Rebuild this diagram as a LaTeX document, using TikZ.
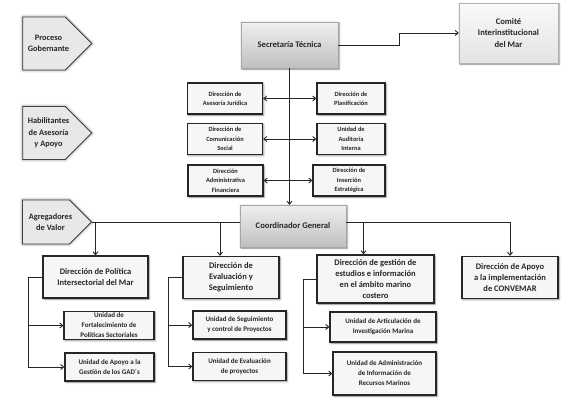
\documentclass[tikz,border=0pt]{standalone}
\usepackage{fontspec}
\setmainfont{Carlito}
\usetikzlibrary{shapes.symbols, arrows.meta, shadows.blur, calc}

\begin{document}
\begin{tikzpicture}[x=1pt, y=-1pt,
  every node/.style={font=\bfseries, text=black!85, align=center, inner sep=1pt},
  tier/.style={signal, signal to=east, signal pointer angle=90, draw=black!75,
               line width=0.8pt, fill=gray!18, minimum width=69pt, minimum height=53pt,
               blur shadow={shadow xshift=0pt, shadow yshift=0pt, shadow blur radius=3pt,
                            shadow opacity=50}},
  tiertext/.style={xshift=4.5pt, font=\fontsize{8.3}{11.5}\selectfont\bfseries},
  head/.style={rectangle, draw=gray!70, top color=gray!12, bottom color=gray!50,
               font=\fontsize{8.6}{11}\selectfont\bfseries,
               blur shadow={shadow xshift=1pt, shadow yshift=-1pt, shadow blur radius=2pt,
                            shadow opacity=50}},
  comite/.style={rectangle, draw=gray!60, top color=gray!4, bottom color=gray!22,
                 font=\fontsize{8.6}{11.5}\selectfont\bfseries,
                 blur shadow={shadow xshift=1pt, shadow yshift=-1pt, shadow blur radius=2pt,
                              shadow opacity=50}},
  staff/.style={rectangle, draw=black!85, line width=1.3pt, fill=gray!7,
                minimum width=75pt, minimum height=31pt,
                font=\fontsize{6.4}{9.3}\selectfont\bfseries,
                blur shadow={shadow xshift=1pt, shadow yshift=-1pt, shadow blur radius=2pt,
                             shadow opacity=50}},
  dept/.style={rectangle, draw=black!85, line width=1.3pt, fill=gray!7,
               minimum height=42pt,
               font=\fontsize{8.5}{11}\selectfont\bfseries,
               blur shadow={shadow xshift=1pt, shadow yshift=-1pt, shadow blur radius=2pt,
                            shadow opacity=50}},
  unit/.style={rectangle, draw=black!85, line width=1.3pt, fill=gray!7,
               minimum height=28pt,
               font=\fontsize{7}{10}\selectfont\bfseries,
               blur shadow={shadow xshift=1pt, shadow yshift=-1pt, shadow blur radius=2pt,
                            shadow opacity=50}},
  line/.style={black!85, line width=0.9pt},
  arr/.style={-{Straight Barb[length=3pt, width=5pt]}, line width=0.9pt, black!85},
  darr/.style={{Straight Barb[length=3pt, width=5pt]}-{Straight Barb[length=3pt, width=5pt]},
               line width=0.9pt, black!85}
]
  \useasboundingbox (0,0) rectangle (567,404);

  % Left column: process tiers
  \node[tier, label={[tiertext]center:Proceso\\Gobernante}] (gob) at (44, 43.5) {};
  \node[tier, label={[tiertext]center:Habilitantes\\de Asesoría\\y Apoyo}] (habil) at (44, 133) {};
  \node[tier, minimum height=44pt, label={[tiertext]center:Agregadores\\de Valor}] (agreg) at (46, 222) {};

  % Top: governing level
  \node[head, minimum width=97pt, minimum height=46pt] (sec) at (289.5, 45) {Secretaría Técnica};
  \node[comite, minimum width=99pt, minimum height=60pt] (comite) at (508.5, 33)
    {Comité\\Interinstitucional\\del Mar};

  % Middle: advisory and support units
  \node[staff] (asesoria)  at (225, 98.5) {Dirección de\\Asesoría Jurídica};
  \node[staff, minimum width=68pt] (planif) at (351, 98.5) {Dirección de\\Planificación};
  \node[staff] (comunic)   at (225, 139) {Dirección de\\Comunicación\\Social};
  \node[staff, minimum width=68pt] (auditoria) at (351, 139) {Unidad de\\Auditoría\\Interna};
  \node[staff] (admfin)    at (225.5, 180.5) {Dirección\\Administrativa\\Financiera};
  \node[staff, minimum width=72pt] (insercion) at (349, 180.5) {Dirección de\\Inserción\\Estratégica};

  % Coordination
  \node[head, minimum width=106pt, minimum height=42pt] (coord) at (293, 226) {Coordinador General};

  % Bottom: value-adding directions
  \node[dept, minimum width=105pt] (politica)   at (95.5, 277) {Dirección de Política\\Intersectorial del Mar};
  \node[dept, minimum width=96pt]  (evaluacion) at (231, 277.5) {Dirección de\\Evaluación y\\Seguimiento};
  \node[dept, minimum width=117pt, minimum height=48pt] (gestion) at (375.5, 279)
    {Dirección de gestión de\\estudios e información\\en el ámbito marino\\costero};
  \node[dept, minimum width=96pt]  (convemar)   at (510, 277.5) {Dirección de Apoyo\\a la implementación\\de CONVEMAR};

  % Units
  \node[unit, minimum width=90pt] (fortal)   at (109, 325.5) {Unidad de\\Fortalecimiento de\\Políticas Sectoriales};
  \node[unit, minimum width=89pt] (gad)      at (109.5, 367) {Unidad de Apoyo a la\\Gestión de los GAD´s};
  \node[unit, minimum width=93pt] (segctrl)  at (239.5, 325) {Unidad de Seguimiento\\y control de Proyectos};
  \node[unit, minimum width=93pt] (evalproy) at (239.5, 366.5) {Unidad de Evaluación\\de proyectos};
  \node[unit, minimum width=106pt, minimum height=30pt] (articul) at (383, 327) {Unidad de Articulación de\\Investigación Marina};
  \node[unit, minimum width=103pt, minimum height=43pt] (adminfo) at (384.5, 373.5)
    {Unidad de Administración\\de Información de\\Recursos Marinos};

  % Connectors
  \draw[arr] (sec.east) -- ++(61,0) |- (comite.west);
  \draw[arr] (sec.south) -- (sec.south |- coord.north);
  \draw[darr] (asesoria.east) -- (planif.west);
  \draw[darr] (comunic.east)  -- (auditoria.west);
  \draw[darr] (admfin.east)   -- (insercion.west);

  \draw[line] (agreg.east) -- (agreg.east -| coord.west);
  \draw[line] (coord.east |- agreg.east) -- (convemar.north |- agreg.east);
  \draw[arr] (politica.north |- agreg.east) -- (politica.north);
  \draw[arr] ([xshift=-11pt]evaluacion.north |- agreg.east) -- ([xshift=-11pt]evaluacion.north);
  \draw[arr] ([xshift=-12pt]gestion.north |- agreg.east) -- ([xshift=-12pt]gestion.north);
  \draw[arr] (convemar.north |- agreg.east) -- (convemar.north);

  \coordinate (busA) at (28, 0);
  \coordinate (busB) at (168, 0);
  \coordinate (busC) at (303, 0);
  \draw[arr] (politica.west) -- (politica.west -| busA) |- (gad.west);
  \draw[arr] (fortal.west -| busA) -- (fortal.west);
  \draw[arr] (evaluacion.west) -- (evaluacion.west -| busB) |- (evalproy.west);
  \draw[arr] (segctrl.west -| busB) -- (segctrl.west);
  \draw[arr] (gestion.west) -- (gestion.west -| busC) |- (adminfo.west);
  \draw[arr] (articul.west -| busC) -- (articul.west);
\end{tikzpicture}
\end{document}
